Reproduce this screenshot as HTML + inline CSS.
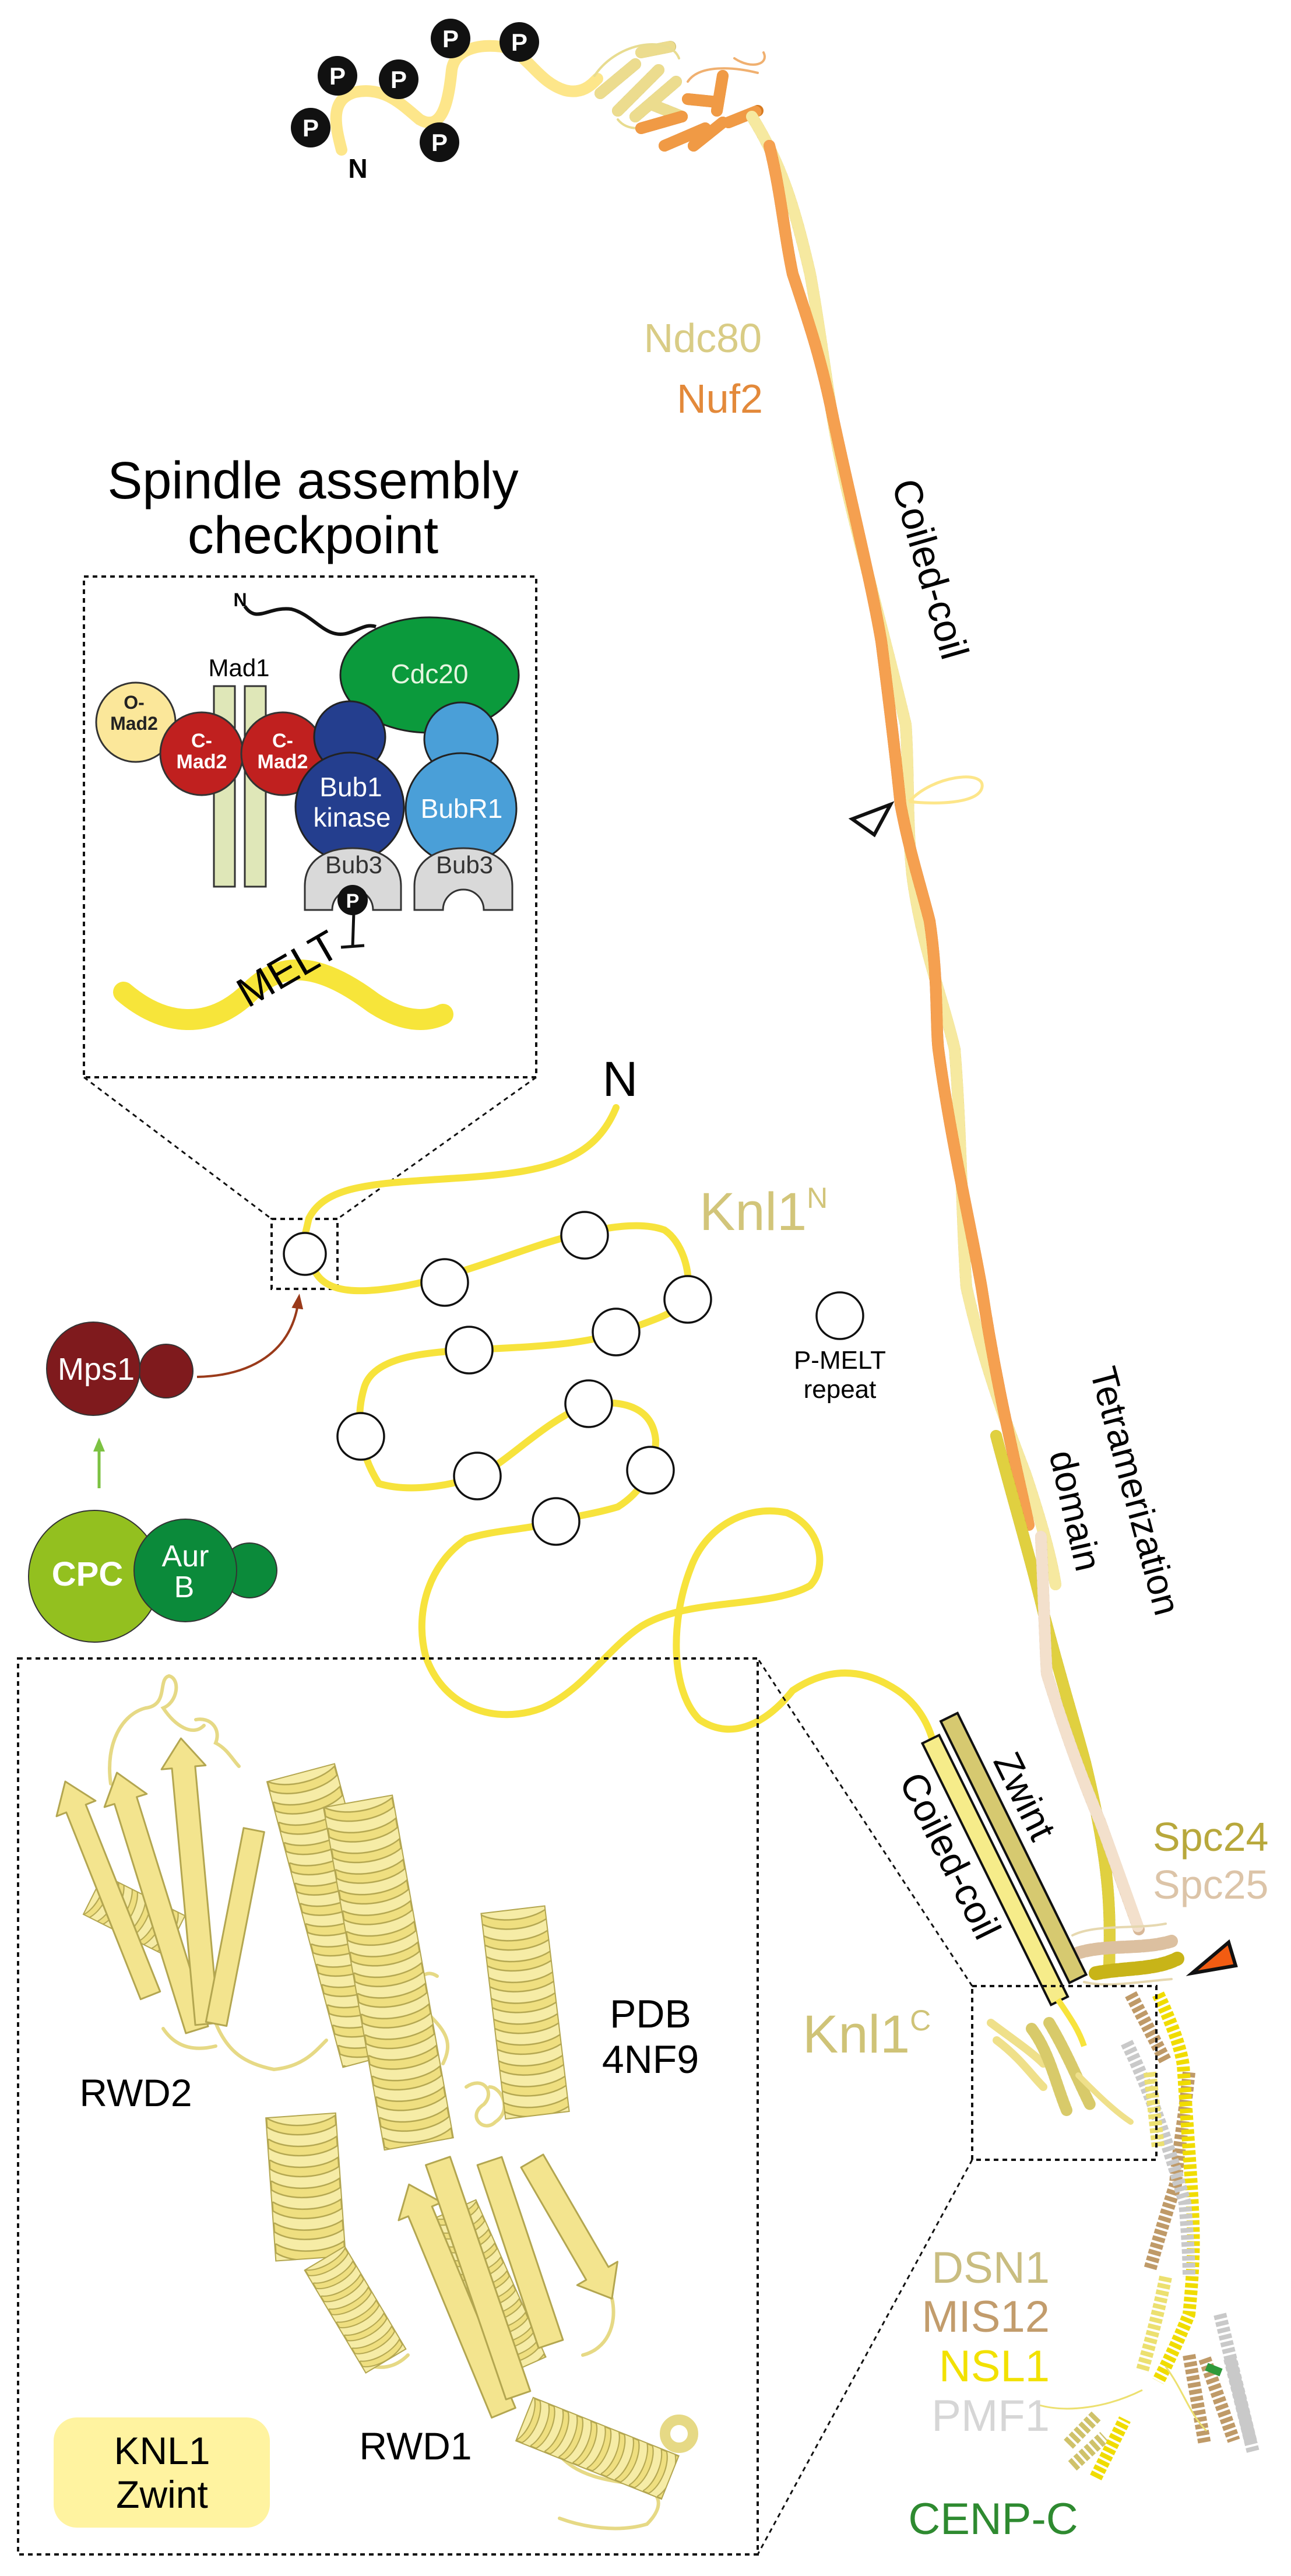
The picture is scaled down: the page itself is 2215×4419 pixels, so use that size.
<!DOCTYPE html>
<html><head><meta charset="utf-8"><style>
html,body{margin:0;padding:0;background:#fff}
svg{display:block}
text{font-family:"Liberation Sans",Arial,sans-serif}
</style></head><body>
<svg width="2215" height="4419" viewBox="0 0 2215 4419" xmlns="http://www.w3.org/2000/svg">
<defs>
<marker id="ag" markerWidth="24" markerHeight="24" refX="12" refY="12" orient="auto" markerUnits="userSpaceOnUse" viewBox="0 0 24 24"><path d="M0,2 L24,12 L0,22 Z" fill="#7cc242"/></marker>
<marker id="ab2" markerWidth="26" markerHeight="26" refX="13" refY="13" orient="auto" markerUnits="userSpaceOnUse" viewBox="0 0 26 26"><path d="M0,3 L26,13 L0,23 Z" fill="#9a3a1a"/></marker>
<pattern id="hx" patternUnits="userSpaceOnUse" x="-60" y="0" width="120" height="36"><rect width="120" height="36" fill="#f6eca6"/><path d="M1,0 C30,22 90,22 119,4 L119,20 C90,38 30,38 1,16 Z" fill="#efdf80" stroke="#b3a650" stroke-width="2.5"/></pattern>
<pattern id="hxs" patternUnits="userSpaceOnUse" x="-40" y="0" width="80" height="26"><rect width="80" height="26" fill="#f6eca6"/><path d="M1,0 C20,15 60,15 79,3 L79,13 C60,26 20,26 1,11 Z" fill="#efdf80" stroke="#b3a650" stroke-width="2"/></pattern>
</defs>

<!-- N-terminal tail with phosphates -->
<path d="M586,257 C575,215 565,170 610,158 C660,148 690,180 720,205 C760,228 770,170 775,120 C780,85 820,75 860,80 C905,88 920,140 970,155 C1000,162 1015,145 1025,135" fill="none" stroke="#fde68a" stroke-width="20" stroke-linecap="round"/>
<g fill="#111"><circle cx="533" cy="219" r="34"/><circle cx="579" cy="130" r="34"/><circle cx="684" cy="136" r="34"/><circle cx="773" cy="66" r="34"/><circle cx="891" cy="72" r="34"/><circle cx="754" cy="244" r="34"/></g>
<g fill="#fff" font-size="42" font-weight="bold" text-anchor="middle"><text x="533" y="234">P</text><text x="579" y="145">P</text><text x="684" y="151">P</text><text x="773" y="81">P</text><text x="891" y="87">P</text><text x="754" y="259">P</text></g>
<text x="614" y="305" font-size="46" font-weight="bold" text-anchor="middle">N</text>

<!-- Ndc80/Nuf2 head -->
<g fill="none" stroke-linecap="round">
<g stroke="#c9b96a" stroke-width="20"><path d="M1030,160 L1090,110 M1060,190 L1130,120 M1090,200 L1160,140 M1100,90 L1150,80 M1120,180 L1170,200"/></g>
<g stroke="#ecdc8e" stroke-width="20" stroke-dasharray="8 6"><path d="M1030,160 L1090,110 M1060,190 L1130,120 M1090,200 L1160,140 M1100,90 L1150,80 M1120,180 L1170,200"/></g>
<path d="M1020,130 C1060,70 1150,60 1165,100 M1060,205 C1080,230 1120,220 1150,200" stroke="#e8dc90" stroke-width="4"/>
<g stroke="#d77a20" stroke-width="20"><path d="M1100,220 L1170,200 M1140,250 L1210,220 M1190,250 L1240,210 M1230,190 L1240,130 M1250,210 L1300,190 M1180,170 L1230,175"/></g>
<g stroke="#f09a45" stroke-width="20" stroke-dasharray="8 6"><path d="M1100,220 L1170,200 M1140,250 L1210,220 M1190,250 L1240,210 M1230,190 L1240,130 M1250,210 L1300,190 M1180,170 L1230,175"/></g>
<path d="M1180,140 C1200,110 1260,115 1300,125 M1260,100 C1290,120 1320,110 1310,90" stroke="#f0b070" stroke-width="4"/>
</g>

<!-- coiled coils -->
<g fill="none" stroke-linecap="round" stroke-width="20">
<path d="M1290,200 C1340,280 1363,353 1390,470 C1410,580 1420,680 1440,780 C1460,880 1520,1100 1554,1243 C1560,1330 1555,1400 1565,1500 C1580,1620 1620,1720 1638,1800 C1650,1950 1650,2100 1658,2208 C1690,2350 1730,2450 1760,2530 C1790,2620 1805,2680 1811,2718" stroke="#d9c56c"/>
<path d="M1290,200 C1340,280 1363,353 1390,470 C1410,580 1420,680 1440,780 C1460,880 1520,1100 1554,1243 C1560,1330 1555,1400 1565,1500 C1580,1620 1620,1720 1638,1800 C1650,1950 1650,2100 1658,2208 C1690,2350 1730,2450 1760,2530 C1790,2620 1805,2680 1811,2718" stroke="#f6e9a0" stroke-dasharray="7 6"/>
<path d="M1320,250 C1340,330 1345,400 1360,470 C1390,560 1410,620 1430,720 C1460,860 1495,1000 1512,1100 C1530,1240 1540,1330 1545,1380 C1560,1460 1580,1520 1595,1580 C1610,1680 1605,1760 1610,1800 C1630,1950 1665,2100 1684,2208 C1710,2380 1740,2500 1765,2616" stroke="#d9741c"/>
<path d="M1320,250 C1340,330 1345,400 1360,470 C1390,560 1410,620 1430,720 C1460,860 1495,1000 1512,1100 C1530,1240 1540,1330 1545,1380 C1560,1460 1580,1520 1595,1580 C1610,1680 1605,1760 1610,1800 C1630,1950 1665,2100 1684,2208 C1710,2380 1740,2500 1765,2616" stroke="#f5a050" stroke-dasharray="7 6"/>
<path d="M1709,2463 C1740,2580 1770,2680 1791,2769 C1820,2880 1845,2960 1862,3024 C1885,3120 1900,3200 1903,3279 C1905,3330 1903,3360 1903,3381" stroke="#b5a512"/>
<path d="M1709,2463 C1740,2580 1770,2680 1791,2769 C1820,2880 1845,2960 1862,3024 C1885,3120 1900,3200 1903,3279 C1905,3330 1903,3360 1903,3381" stroke="#e0d040" stroke-dasharray="7 6"/>
<path d="M1786,2636 C1790,2720 1792,2800 1796,2871 C1830,2980 1860,3060 1888,3126 C1915,3200 1940,3270 1954,3310" stroke="#d8b898"/>
<path d="M1786,2636 C1790,2720 1792,2800 1796,2871 C1830,2980 1860,3060 1888,3126 C1915,3200 1940,3270 1954,3310" stroke="#f3e0cc" stroke-dasharray="7 6"/>
</g>
<!-- Spc24/25 head -->
<g fill="none" stroke-linecap="round">
<path d="M1850,3350 C1900,3335 1960,3345 2010,3330" stroke="#dcc0a0" stroke-width="22" stroke-dasharray="9 5"/>
<path d="M1880,3385 C1930,3375 1980,3380 2020,3360" stroke="#c8b418" stroke-width="24" stroke-dasharray="9 5"/>
<path d="M1840,3320 C1880,3300 1950,3310 2000,3300 M1860,3400 C1900,3410 1950,3400 2010,3395" stroke="#e6d8b0" stroke-width="4"/>
</g>
<!-- MIS12 complex -->
<g fill="none" stroke-linecap="butt" stroke-width="22" stroke-dasharray="8 4">
<path d="M1940,3421 L2000,3536 M2040,3555 C2030,3650 2020,3700 2017,3747 C2000,3800 1985,3850 1973,3893" stroke="#bf9a68"/>
<path d="M1987,3421 C2010,3470 2025,3510 2030,3542 C2040,3700 2050,3800 2047,3874 C2045,3920 2042,3950 2040,3970 C2020,4020 2000,4060 1987,4085" stroke="#f0dc00"/>
<path d="M1933,3504 C1980,3600 2010,3700 2033,3779 C2038,3840 2040,3880 2040,3906" stroke="#c9c9c9"/>
<path d="M1973,3555 L1987,3683 M2000,3906 C1985,3980 1970,4030 1960,4066" stroke="#ece070"/>
<path d="M2040,4040 L2067,4193 M2067,4046 L2117,4187" stroke="#bf9a68"/>
<path d="M2093,3970 L2147,4193 M2110,4046 L2150,4206" stroke="#c9c9c9"/>
<path d="M1833,4193 L1883,4142 M1840,4230 L1895,4180" stroke="#cfc26a"/>
<path d="M1880,4250 L1930,4150" stroke="#f0dc00"/>
</g>
<path d="M2070,4060 l25,10" stroke="#2e9a3a" stroke-width="14"/>
<path d="M1780,4125 C1830,4140 1900,4130 1960,4100 M2000,4060 C2030,4100 2040,4140 2070,4170" fill="none" stroke="#ece070" stroke-width="3"/>
<!-- Knl1C small structure -->
<g fill="none" stroke-linecap="round">
<path d="M1700,3470 C1740,3500 1770,3520 1790,3540 M1710,3500 C1750,3530 1770,3560 1790,3580" stroke="#efe08a" stroke-width="14"/>
<path d="M1770,3480 C1800,3520 1810,3570 1830,3620 M1800,3470 C1830,3520 1850,3570 1870,3610" stroke="#d8ca6a" stroke-width="20" stroke-dasharray="6 4"/>
<path d="M1850,3560 C1880,3590 1910,3620 1940,3640" stroke="#efe08a" stroke-width="10"/>
</g>

<!-- labels -->
<text x="1307" y="604" font-size="70" fill="#d9cc85" text-anchor="end">Ndc80</text>
<text x="1309" y="708" font-size="70" fill="#e3893a" text-anchor="end">Nuf2</text>
<text transform="translate(1530,830) rotate(74)" font-size="68">Coiled-coil</text>
<path d="M1462,1405 L1528,1380 L1500,1432 Z" fill="#fff" stroke="#111" stroke-width="6" stroke-linejoin="miter"/>
<path d="M1560,1375 C1600,1330 1690,1320 1685,1350 C1680,1380 1600,1380 1560,1375" fill="none" stroke="#fde68a" stroke-width="5"/>

<text transform="translate(1870,2352) rotate(75)" font-size="64">Tetramerization</text>
<text transform="translate(1800,2494) rotate(77)" font-size="64">domain</text>
<text x="1978" y="3175" font-size="70" fill="#b8a83c">Spc24</text>
<text x="1978" y="3257" font-size="70" fill="#dcc4a8">Spc25</text>
<path d="M2045,3385 L2108,3332 L2120,3372 Z" fill="#f25c12" stroke="#111" stroke-width="6" stroke-linejoin="miter"/>

<!-- Spindle assembly checkpoint -->
<text x="537" y="855" font-size="90" text-anchor="middle">Spindle assembly</text>
<text x="537" y="949" font-size="90" text-anchor="middle">checkpoint</text>
<rect x="144" y="989" width="776" height="859" fill="none" stroke="#111" stroke-width="4" stroke-dasharray="8 7"/>
<path d="M144,1848 L466,2091 M920,1848 L579,2091" stroke="#111" stroke-width="3" stroke-dasharray="8 7"/>
<rect x="466" y="2091" width="113" height="120" fill="none" stroke="#111" stroke-width="4" stroke-dasharray="8 7"/>

<path d="M420,1040 C440,1070 460,1040 500,1045 C540,1055 560,1100 600,1085 C620,1078 630,1070 645,1075" fill="none" stroke="#111" stroke-width="6"/>
<text x="412" y="1040" font-size="32" font-weight="bold" text-anchor="middle">N</text>
<ellipse cx="737" cy="1158" rx="153" ry="99" fill="#0b9a3c" stroke="#222" stroke-width="3"/>
<text x="737" y="1172" font-size="46" fill="#e6f5e0" text-anchor="middle">Cdc20</text>
<text x="410" y="1160" font-size="42" text-anchor="middle">Mad1</text>
<rect x="367" y="1177" width="36" height="344" fill="#dfe7b8" stroke="#333" stroke-width="3"/>
<rect x="420" y="1177" width="36" height="344" fill="#dfe7b8" stroke="#333" stroke-width="3"/>
<circle cx="233" cy="1239" r="68" fill="#fbe79a" stroke="#333" stroke-width="3"/>
<text x="230" y="1216" font-size="32" font-weight="bold" text-anchor="middle" fill="#222">O-</text>
<text x="230" y="1252" font-size="32" font-weight="bold" text-anchor="middle" fill="#222">Mad2</text>
<circle cx="346" cy="1293" r="71" fill="#c0201f" stroke="#333" stroke-width="3"/>
<circle cx="485" cy="1293" r="71" fill="#c0201f" stroke="#333" stroke-width="3"/>
<g fill="#fff" font-size="34" font-weight="bold" text-anchor="middle"><text x="346" y="1282">C-</text><text x="346" y="1318">Mad2</text><text x="485" y="1282">C-</text><text x="485" y="1318">Mad2</text></g>
<circle cx="600" cy="1264" r="61" fill="#243e8e" stroke="#222" stroke-width="3"/>
<circle cx="600" cy="1384" r="93" fill="#243e8e" stroke="#222" stroke-width="3"/>
<text x="602" y="1366" font-size="46" fill="#fff" text-anchor="middle">Bub1</text>
<text x="604" y="1418" font-size="46" fill="#fff" text-anchor="middle">kinase</text>
<circle cx="791" cy="1268" r="63" fill="#4a9fd8" stroke="#222" stroke-width="3"/>
<circle cx="791" cy="1387" r="95" fill="#4a9fd8" stroke="#222" stroke-width="3"/>
<text x="792" y="1403" font-size="46" fill="#fff" text-anchor="middle">BubR1</text>
<path d="M523,1520 C523,1475 560,1455 605,1455 C650,1455 688,1475 688,1520 L688,1561 L640,1561 A35,35 0 0 0 570,1561 L523,1561 Z" fill="#d9d9d9" stroke="#333" stroke-width="3"/>
<path d="M711,1520 C711,1475 750,1455 795,1455 C840,1455 879,1475 879,1520 L879,1561 L830,1561 A35,35 0 0 0 760,1561 L711,1561 Z" fill="#d9d9d9" stroke="#333" stroke-width="3"/>
<text x="607" y="1498" font-size="42" fill="#333" text-anchor="middle">Bub3</text>
<text x="797" y="1498" font-size="42" fill="#333" text-anchor="middle">Bub3</text>
<path d="M212,1702 C280,1760 360,1770 430,1700 C490,1640 560,1660 640,1720 C700,1760 740,1750 760,1740" fill="none" stroke="#f7e53a" stroke-width="36" stroke-linecap="round"/>
<path d="M607,1565 L605,1625 M585,1625 L625,1622" stroke="#111" stroke-width="5"/>
<circle cx="605" cy="1544" r="26" fill="#111"/>
<text x="605" y="1557" font-size="34" font-weight="bold" fill="#fff" text-anchor="middle">P</text>
<text transform="translate(425,1730) rotate(-30)" font-size="72">MELT</text>

<!-- Knl1 N region -->
<text x="1064" y="1880" font-size="84" text-anchor="middle">N</text>
<path d="M1057,1900 C1020,1990 940,2010 800,2020 C650,2030 560,2030 530,2090 L523,2120 M540,2180 C560,2220 620,2220 700,2205 C800,2185 900,2140 980,2120 C1040,2105 1100,2095 1140,2110 C1170,2130 1185,2180 1180,2215 C1175,2250 1130,2260 1080,2280 C1000,2310 900,2310 805,2316 C720,2320 640,2330 625,2380 C610,2430 615,2490 650,2545 C700,2560 770,2550 819,2532 C870,2510 930,2440 1010,2408 C1080,2400 1120,2420 1125,2470 C1125,2520 1100,2560 1060,2585 C1010,2600 960,2605 954,2610 C900,2625 850,2624 800,2640 C740,2680 710,2760 730,2840 C760,2930 850,2960 930,2930 C1000,2900 1040,2830 1100,2790 C1180,2740 1320,2760 1390,2720 C1420,2690 1410,2620 1350,2595 C1280,2580 1210,2620 1185,2690 C1150,2780 1150,2900 1200,2950 C1260,2990 1320,2950 1360,2900 C1420,2860 1480,2860 1540,2900 C1570,2920 1590,2950 1600,2985" fill="none" stroke="#f7e33c" stroke-width="12" stroke-linecap="round"/>
<g fill="#fff" stroke="#111" stroke-width="3.5">
<circle cx="523" cy="2151" r="36"/><circle cx="763" cy="2200" r="40"/><circle cx="1003" cy="2119" r="40"/><circle cx="1180" cy="2229" r="40"/>
<circle cx="1057" cy="2285" r="40"/><circle cx="805" cy="2316" r="40"/><circle cx="619" cy="2464" r="40"/><circle cx="1010" cy="2408" r="40"/>
<circle cx="819" cy="2532" r="40"/><circle cx="1116" cy="2522" r="40"/><circle cx="954" cy="2610" r="40"/><circle cx="1441" cy="2257" r="40"/>
</g>
<text x="1200" y="2110" font-size="92" fill="#d2c57a">Knl1<tspan font-size="50" dy="-38">N</tspan></text>
<text x="1441" y="2348" font-size="44" text-anchor="middle">P-MELT</text>
<text x="1441" y="2398" font-size="44" text-anchor="middle">repeat</text>

<!-- Mps1 / CPC -->
<circle cx="285" cy="2352" r="46" fill="#7f1a1d" stroke="#333" stroke-width="2"/>
<circle cx="160" cy="2348" r="80" fill="#7f1a1d" stroke="#333" stroke-width="2"/>
<text x="165" y="2367" font-size="54" fill="#fff" text-anchor="middle">Mps1</text>
<path d="M338,2362 C430,2360 500,2320 512,2232" fill="none" stroke="#9a3a1a" stroke-width="4" marker-end="url(#ab2)"/>
<path d="M170,2553 L170,2478" stroke="#7cc242" stroke-width="5" marker-end="url(#ag)"/>
<circle cx="162" cy="2704" r="113" fill="#93c01f" stroke="#333" stroke-width="2"/>
<circle cx="428" cy="2694" r="47" fill="#0b8a3a" stroke="#333" stroke-width="2"/>
<circle cx="318" cy="2694" r="88" fill="#0b8a3a" stroke="#333" stroke-width="2"/>
<text x="150" y="2720" font-size="58" font-weight="bold" fill="#fff" text-anchor="middle">CPC</text>
<text x="318" y="2687" font-size="52" fill="#fff" text-anchor="middle">Aur</text>
<text x="316" y="2740" font-size="52" fill="#fff" text-anchor="middle">B</text>

<!-- Coiled-coil bars -->
<g transform="translate(1596,2984) rotate(63.8)">
<rect x="0" y="-17" width="500" height="32" fill="#f6ec8a" stroke="#111" stroke-width="4"/>
<rect x="-20" y="-62" width="500" height="32" fill="#d6c970" stroke="#111" stroke-width="4"/>
<text x="40" y="80" font-size="66">Coiled-coil</text>
<text x="80" y="-80" font-size="66">Zwint</text>
</g>
<path d="M1815,3430 C1835,3460 1850,3480 1860,3510" fill="none" stroke="#f7e33c" stroke-width="10"/>
<text x="1377" y="3521" font-size="92" fill="#cfc377">Knl1<tspan font-size="50" dy="-38">C</tspan></text>

<!-- zoom boxes -->
<rect x="1668" y="3407" width="316" height="298" fill="none" stroke="#111" stroke-width="4" stroke-dasharray="8 7"/>
<path d="M1668,3407 L1300,2845 M1668,3705 L1300,4382" stroke="#111" stroke-width="3" stroke-dasharray="8 7"/>
<rect x="31" y="2845" width="1269" height="1537" fill="none" stroke="#111" stroke-width="4" stroke-dasharray="8 7"/>

<!-- big structure: loops -->
<g fill="none" stroke="#e6d985" stroke-width="6" stroke-linecap="round">
<path d="M190,3060 C180,2990 210,2940 250,2930 C290,2925 270,2880 290,2875 C310,2880 305,2920 280,2930 C300,2960 330,2980 350,2960"/>
<path d="M336,2950 C360,2945 380,2965 370,2990 C390,3000 400,3020 410,3030"/>
<path d="M370,3470 C390,3520 420,3540 470,3550 C520,3545 540,3520 560,3500"/>
<path d="M280,3480 C300,3510 330,3520 370,3510"/>
<path d="M750,3390 C720,3370 700,3420 730,3450 C760,3480 780,3500 760,3540 M800,3580 C830,3560 850,3590 830,3610 C800,3630 830,3660 850,3640 C880,3620 860,3580 840,3580"/>
<path d="M1050,3943 C1060,3990 1040,4030 1000,4040 M930,4150 C950,4230 1000,4250 1080,4260 C1140,4270 1140,4300 1110,4330 C1060,4345 1000,4335 960,4320"/>
<path d="M620,4050 C650,4070 680,4060 700,4040"/>
</g>
<circle cx="1165" cy="4175" r="24" fill="none" stroke="#e6d985" stroke-width="18"/>
<!-- helices -->
<g stroke="#b3a650" stroke-width="2">
<g transform="translate(160,3250) rotate(-63.4)"><rect x="-38" y="0" width="76" height="157" fill="url(#hxs)"/></g>
<g transform="translate(516,3041) rotate(-14.9)"><rect x="-60" y="0" width="120" height="507" fill="url(#hx)"/></g>
<g transform="translate(614,3090) rotate(-10.1)"><rect x="-60" y="0" width="120" height="597" fill="url(#hx)"/></g>
<g transform="translate(516,3629) rotate(-4)"><rect x="-60" y="0" width="120" height="246" fill="url(#hx)"/></g>
<g transform="translate(557,3874) rotate(-30.8)"><rect x="-40" y="0" width="80" height="205" fill="url(#hxs)"/></g>
<g transform="translate(880,3276) rotate(-6.8)"><rect x="-55" y="0" width="110" height="355" fill="url(#hx)"/></g>
<g transform="translate(780,3790) rotate(-24)"><rect x="-40" y="0" width="80" height="295" fill="url(#hxs)"/></g>
<g transform="translate(900,4150) rotate(-68.2)"><rect x="-40" y="0" width="80" height="269" fill="url(#hxs)"/></g>
</g>
<!-- strands -->
<g fill="#f3e48e" stroke="#b3a650" stroke-width="3" stroke-linejoin="round">
<g transform="translate(258,3423) rotate(-201.7)"><path d="M-18,0 L18,0 L18,345 L36,345 L0,395 L-36,345 L-18,345 Z"/></g>
<g transform="translate(338,3482) rotate(-197.3)"><path d="M-20,0 L20,0 L20,412 L38,412 L0,462 L-38,412 L-20,412 Z"/></g>
<g transform="translate(355,3472) rotate(-185.2)"><path d="M-20,0 L20,0 L20,442 L38,442 L0,492 L-38,442 L-20,442 Z"/></g>
<g transform="translate(371,3472) rotate(-169)"><path d="M-18,0 L18,0 L18,339 L-18,339 Z"/></g>
<g transform="translate(864,4139) rotate(-202.5)"><path d="M-22,0 L22,0 L22,374 L40,374 L0,424 L-40,374 L-22,374 Z"/></g>
<g transform="translate(889,4109) rotate(-198.9)"><path d="M-22,0 L22,0 L22,425 L-22,425 Z"/></g>
<g transform="translate(945,4021) rotate(-198.5)"><path d="M-22,0 L22,0 L22,331 L-22,331 Z"/></g>
<g transform="translate(913,3707) rotate(-30.1)"><path d="M-22,0 L22,0 L22,223 L40,223 L0,273 L-40,223 L-22,223 Z"/></g>
</g>
<text x="1116" y="3478" font-size="68" text-anchor="middle">PDB</text>
<text x="1116" y="3556" font-size="68" text-anchor="middle">4NF9</text>
<text x="233" y="3613" font-size="66" text-anchor="middle">RWD2</text>
<text x="713" y="4219" font-size="66" text-anchor="middle">RWD1</text>
<rect x="92" y="4147" width="371" height="189" rx="40" fill="#fff3a0"/>
<text x="278" y="4227" font-size="66" text-anchor="middle">KNL1</text>
<text x="278" y="4302" font-size="66" text-anchor="middle">Zwint</text>

<!-- MIS12 labels -->
<text x="1801" y="3916" font-size="76" fill="#c9bd80" text-anchor="end">DSN1</text>
<text x="1801" y="4000" font-size="76" fill="#c29c6c" text-anchor="end">MIS12</text>
<text x="1801" y="4085" font-size="76" fill="#f2e100" text-anchor="end">NSL1</text>
<text x="1801" y="4170" font-size="76" fill="#d6d6d6" text-anchor="end">PMF1</text>
<text x="1704" y="4347" font-size="76" fill="#2e8a30" text-anchor="middle">CENP-C</text>
</svg>
</body></html>
